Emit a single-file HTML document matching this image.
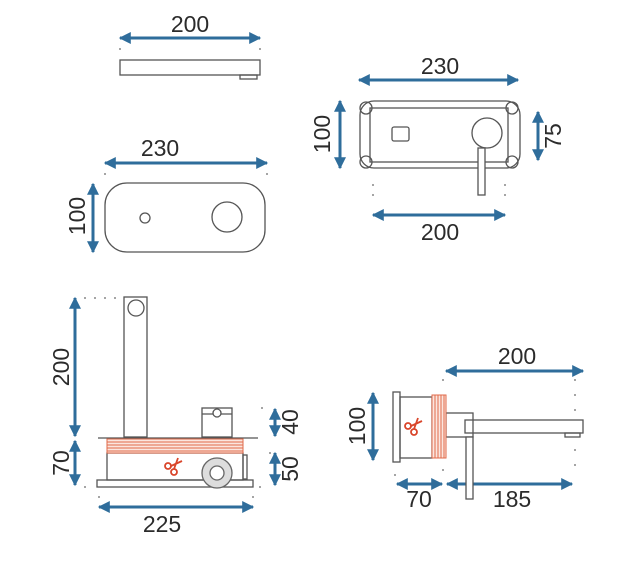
<!DOCTYPE html>
<html><head><meta charset="utf-8"><style>
html,body{margin:0;padding:0;background:#fff;}
svg{display:block}
text{font-family:"Liberation Sans",sans-serif;font-size:23px;fill:#2b2b2b;}
</style></head><body>
<svg width="632" height="577" viewBox="0 0 632 577" xmlns="http://www.w3.org/2000/svg">
<defs>
<marker id="a" viewBox="0 0 10 10" refX="9" refY="5" markerWidth="5" markerHeight="4" orient="auto-start-reverse" markerUnits="strokeWidth"><path d="M0,0L10,5L0,10z" fill="#2f6d9b"/></marker>
</defs>
<g stroke="#2f6d9b" stroke-width="3" marker-start="url(#a)" marker-end="url(#a)">
<line x1="120" y1="38" x2="260" y2="38"/>
<line x1="105" y1="163" x2="267" y2="163"/>
<line x1="93" y1="184" x2="93" y2="252"/>
<line x1="359" y1="80" x2="518" y2="80"/>
<line x1="340" y1="101" x2="340" y2="168"/>
<line x1="538" y1="112" x2="538" y2="160"/>
<line x1="373" y1="215" x2="505" y2="215"/>
<line x1="75" y1="298" x2="75" y2="436"/>
<line x1="75" y1="441" x2="75" y2="485"/>
<line x1="275" y1="409" x2="275" y2="436"/>
<line x1="275" y1="453" x2="275" y2="485"/>
<line x1="99" y1="507" x2="253" y2="507"/>
<line x1="446" y1="371" x2="583" y2="371"/>
<line x1="373" y1="393" x2="373" y2="460"/>
<line x1="397" y1="484" x2="442" y2="484"/>
<line x1="447" y1="484" x2="572" y2="484"/>
</g>
<g fill="none" stroke="#555" stroke-width="1.3">
<rect x="120" y="60" width="140" height="15"/>
<rect x="240" y="75" width="17" height="4"/>
<rect x="105" y="183" width="160" height="69" rx="22"/>
<circle cx="145" cy="218" r="5"/>
<circle cx="227" cy="217" r="15"/>
<rect x="360" y="101" width="160" height="67" rx="14"/>
<rect x="370" y="108" width="138" height="54"/>
<circle cx="366" cy="108" r="6"/><circle cx="512" cy="108" r="6"/>
<circle cx="366" cy="162" r="6"/><circle cx="512" cy="162" r="6"/>
<rect x="392" y="127" width="17" height="14" rx="2"/>
<circle cx="487" cy="133" r="15"/>
<rect x="478" y="148" width="7" height="47" fill="#fff"/>
<rect x="124" y="297" width="23" height="140"/>
<circle cx="136" cy="308" r="8"/>
<line x1="98" y1="438" x2="258" y2="438"/>
<rect x="107" y="453" width="136" height="27"/>
<rect x="97" y="480" width="156" height="7"/>
<rect x="202" y="408" width="30" height="29"/>
<line x1="202" y1="414" x2="232" y2="414"/>
<circle cx="217" cy="413" r="4" fill="#fff"/>
<rect x="243" y="455" width="4" height="24"/>
<rect x="393" y="392" width="7" height="70"/>
<rect x="400" y="397" width="32" height="61"/>
<rect x="446" y="413" width="27" height="24"/>
<rect x="465" y="420" width="118" height="13"/>
<rect x="565" y="433" width="15" height="4"/>
<rect x="466" y="437" width="7" height="62" fill="#fff"/>
</g>
<circle cx="217" cy="473" r="15" fill="#ddd" stroke="#666" stroke-width="1.3"/>
<circle cx="217" cy="473" r="7" fill="#fff" stroke="#666" stroke-width="1.3"/>
<g stroke="#e06a4a" stroke-width="1">
<rect x="107" y="439" width="136" height="14" fill="#fbe6df"/>
<line x1="107" y1="442" x2="243" y2="442"/><line x1="107" y1="445" x2="243" y2="445"/>
<line x1="107" y1="448" x2="243" y2="448"/><line x1="107" y1="451" x2="243" y2="451"/>
<rect x="432" y="395" width="14" height="63" fill="#fbe6df"/>
<line x1="435" y1="395" x2="435" y2="458"/><line x1="438" y1="395" x2="438" y2="458"/>
<line x1="441" y1="395" x2="441" y2="458"/><line x1="444" y1="395" x2="444" y2="458"/>
</g>
<g fill="none" stroke="#d9452a" stroke-width="1.8">
<circle cx="168" cy="466" r="3"/><circle cx="174" cy="472" r="3"/>
<path d="M171,466 L182,461 M174,469 L178,458"/>
<circle cx="408" cy="426" r="3"/><circle cx="414" cy="432" r="3"/>
<path d="M411,426 L422,421 M414,429 L418,418"/>
</g>
<g fill="#888">
<circle cx="120" cy="49" r="1"/><circle cx="260" cy="49" r="1"/>
<circle cx="105" cy="174" r="1"/><circle cx="267" cy="174" r="1"/>
<circle cx="373" cy="185" r="1"/><circle cx="373" cy="195" r="1"/><circle cx="505" cy="185" r="1"/><circle cx="505" cy="195" r="1"/>
<circle cx="85" cy="298" r="1"/><circle cx="95" cy="298" r="1"/><circle cx="105" cy="298" r="1"/><circle cx="115" cy="298" r="1"/>
<circle cx="85" cy="487" r="1"/><circle cx="260" cy="487" r="1"/><circle cx="262" cy="408" r="1"/><circle cx="270" cy="453" r="1"/>
<circle cx="99" cy="497" r="1"/><circle cx="253" cy="497" r="1"/>
<circle cx="575" cy="380" r="1"/><circle cx="575" cy="395" r="1"/><circle cx="575" cy="410" r="1"/><circle cx="575" cy="450" r="1"/><circle cx="575" cy="465" r="1"/>
<circle cx="443" cy="380" r="1"/><circle cx="443" cy="470" r="1"/><circle cx="395" cy="475" r="1"/>
</g>
<text x="190" y="32" text-anchor="middle">200</text>
<text x="160" y="156" text-anchor="middle">230</text>
<text x="440" y="74" text-anchor="middle">230</text>
<text x="440" y="240" text-anchor="middle">200</text>
<text x="162" y="532" text-anchor="middle">225</text>
<text x="517" y="364" text-anchor="middle">200</text>
<text x="419" y="507" text-anchor="middle">70</text>
<text x="512" y="507" text-anchor="middle">185</text>
<text transform="translate(85,216) rotate(-90)" text-anchor="middle">100</text>
<text transform="translate(330,134) rotate(-90)" text-anchor="middle">100</text>
<text transform="translate(561,136) rotate(-90)" text-anchor="middle">75</text>
<text transform="translate(69,367) rotate(-90)" text-anchor="middle">200</text>
<text transform="translate(69,463) rotate(-90)" text-anchor="middle">70</text>
<text transform="translate(298,422) rotate(-90)" text-anchor="middle">40</text>
<text transform="translate(298,469) rotate(-90)" text-anchor="middle">50</text>
<text transform="translate(365,426) rotate(-90)" text-anchor="middle">100</text>
</svg>
</body></html>
